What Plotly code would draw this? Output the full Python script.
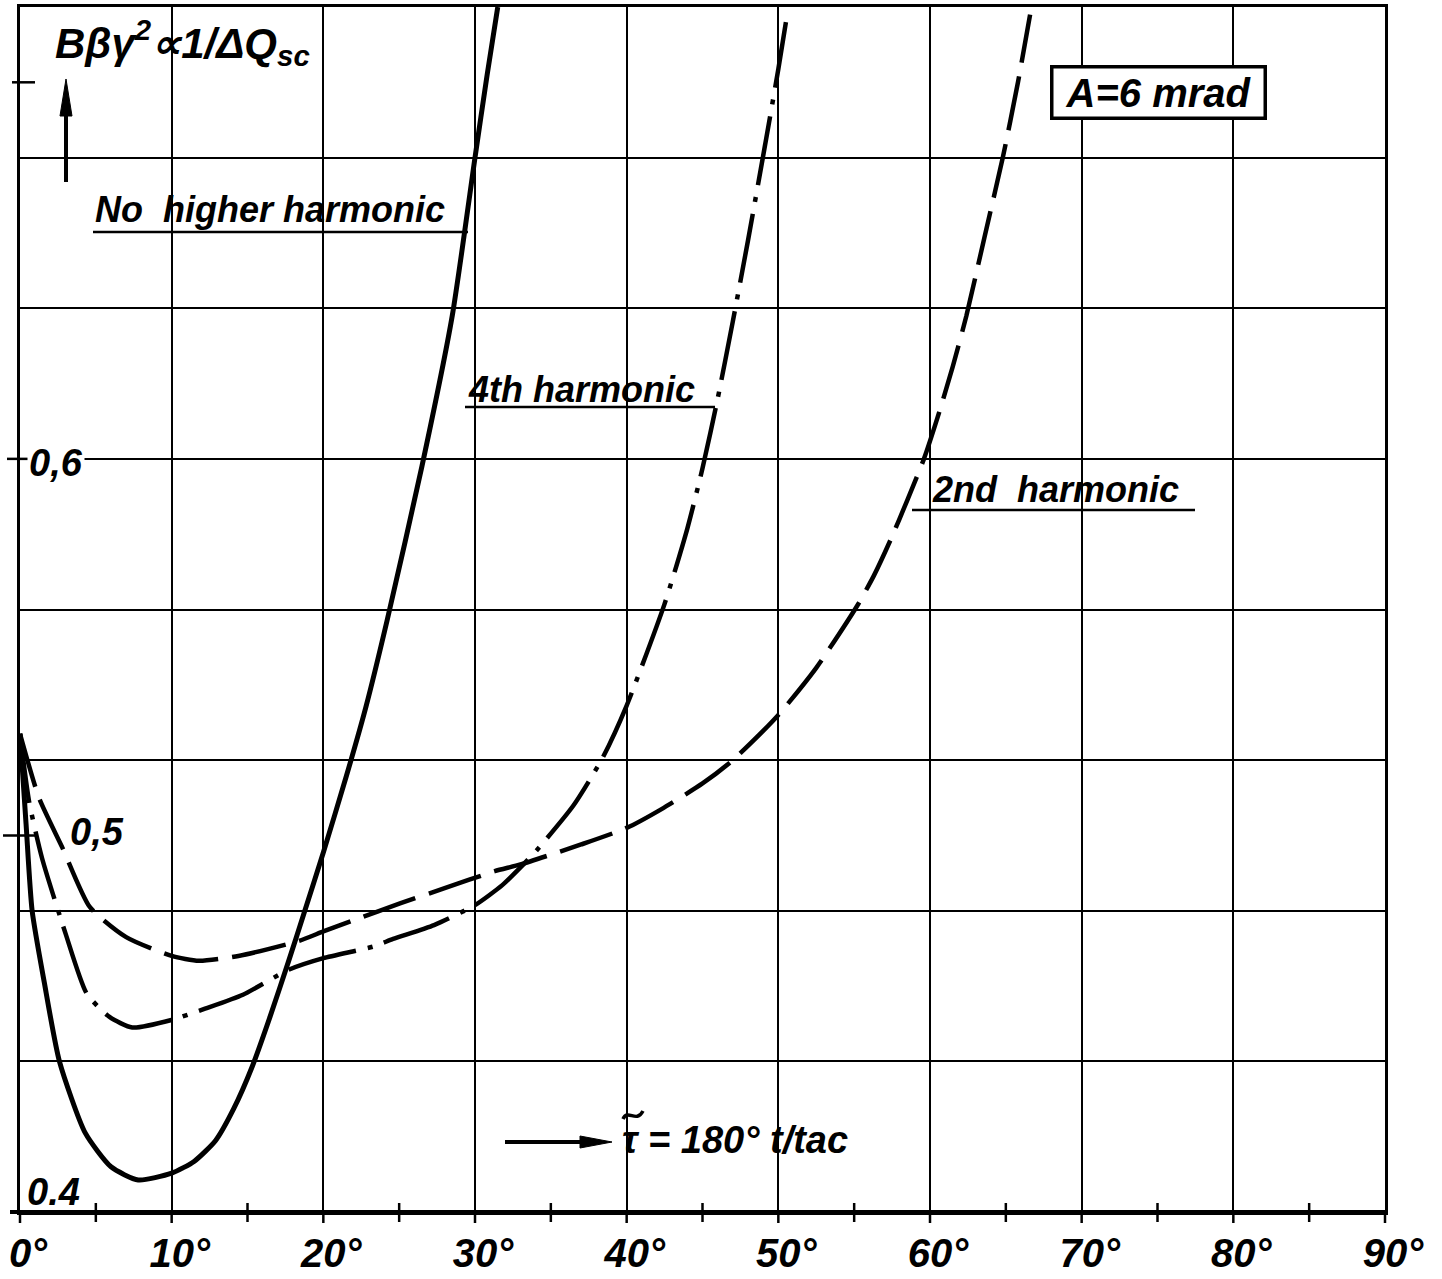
import plotly.graph_objects as go

# ---------------- data ----------------
x_none = [0, 0.4, 0.8, 1.6, 2.6, 4.3, 6.0, 7.8, 10.0, 11.5, 12.9, 14.1, 15.3, 16.5, 17.7,
          18.7, 20.0, 21.5, 22.8, 24.2, 26.5, 28.5, 30.0, 30.8, 31.5]
y_none = [0.527, 0.503, 0.480, 0.461, 0.440, 0.421, 0.412, 0.4085, 0.4103, 0.4135, 0.419,
          0.4275, 0.4385, 0.452, 0.4665, 0.479, 0.4955, 0.5155, 0.534, 0.557, 0.598, 0.638,
          0.680, 0.702, 0.720]

x_4th = [0, 0.6, 1.45, 3.0, 4.4, 5.9, 7.4, 10.0, 12.2, 14.7, 17.7, 20.0, 23.3, 24.6,
         27.3, 30.0, 31.8, 33.0, 34.1, 36.5, 38.4, 40.0, 42.5, 44.0, 45.0, 46.0, 47.0,
         48.0, 49.0, 50.0, 50.5]
y_4th = [0.527, 0.509, 0.494, 0.474, 0.458, 0.4518, 0.449, 0.451, 0.454, 0.4577, 0.4643,
         0.4674, 0.4705, 0.4725, 0.4762, 0.4815, 0.4868, 0.4915, 0.4962, 0.5080, 0.5205,
         0.5345, 0.5615, 0.5815, 0.5975, 0.616, 0.6365, 0.658, 0.6805, 0.7035, 0.716]

x_2nd = [0, 1.25, 2.8, 4.6, 7.0, 10.0, 11.8, 14.4, 18.4, 20.0, 22.0, 25.1, 28.0, 31.3,
         33.0, 37.0, 40.0, 42.3, 45.0, 47.0, 50.0, 52.5, 55.2, 56.3, 57.4, 58.5, 59.6,
         60.5, 61.5, 62.4, 63.6, 64.8, 65.8, 66.6]
y_2nd = [0.527, 0.510, 0.4967, 0.481, 0.473, 0.468, 0.4667, 0.468, 0.472, 0.4745, 0.4775,
         0.482, 0.486, 0.4905, 0.4923, 0.4976, 0.502, 0.507, 0.5138, 0.520, 0.532, 0.5445,
         0.561, 0.569, 0.5785, 0.589, 0.600, 0.611, 0.6245, 0.638, 0.659, 0.680, 0.700,
         0.718]

x_tickvals = [0, 10, 20, 30, 40, 50, 60, 70, 80, 90]
x_ticktext = ["0°", "10°", "20°", "30°", "40°", "50°", "60°", "70°", "80°", "90°"]
x_minor = [5, 15, 25, 35, 45, 55, 65, 75, 85]
y_marked = [0.5, 0.6, 0.7]
y_marked_text = ["0,5", "0,6", "0.4"]

# ---------------- layout geometry ----------------
W, H = 1442, 1279
PL, PR, PT, PB = 20, 1385, 7, 1212
X0, X1 = 0, 90
Y0, Y1 = 0.4, 0.72


def px(xp):
    return (xp - PL) / (PR - PL)


def py(yp):
    return (PB - yp) / (PB - PT)


def yv(v):
    return (v - Y0) / (Y1 - Y0)


def xv(d):
    return (d - X0) / (X1 - X0)


def pt(a, b):
    return f"{px(a):.5f},{py(b):.5f}"


def tri(pts):
    return "M " + " L ".join(pt(a, b) for a, b in pts) + " Z"


TXT = dict(family="Liberation Sans, Arial, sans-serif", size=36, color="black",
           style="italic", weight="bold")
NUM = dict(family="Liberation Sans Narrow, Liberation Sans, Arial, sans-serif",
           size=40, color="black", style="italic", weight="bold")

fig = go.Figure()

fig.add_trace(go.Scatter(x=x_none, y=y_none, mode="lines",
                         line=dict(color="black", width=5, shape="spline", smoothing=0.6),
                         name="No higher harmonic", hoverinfo="skip"))
fig.add_trace(go.Scatter(x=x_4th, y=y_4th, mode="lines",
                         line=dict(color="black", width=4.5, shape="spline", smoothing=0.6,
                                   dash="70px,12px,5px,12px"),
                         name="4th harmonic", hoverinfo="skip"))
fig.add_trace(go.Scatter(x=x_2nd, y=y_2nd, mode="lines",
                         line=dict(color="black", width=4.5, shape="spline", smoothing=0.6,
                                   dash="55px,14px"),
                         name="2nd harmonic", hoverinfo="skip"))

BL = dict(color="black", width=2.5)
shapes = []
# major ticks below the x axis
for d in x_tickvals:
    shapes.append(dict(type="line", xref="paper", yref="paper", x0=xv(d), x1=xv(d),
                       y0=0, y1=py(1223), line=BL))
# minor ticks crossing the x axis
for d in x_minor:
    shapes.append(dict(type="line", xref="paper", yref="paper", x0=xv(d), x1=xv(d),
                       y0=py(1203), y1=py(1222), line=BL))
# marked ticks on the left edge
for v, a, b in zip(y_marked, [3, 7, 12], [37, 35, 35]):
    shapes.append(dict(type="line", xref="paper", yref="paper", x0=px(a), x1=px(b),
                       y0=yv(v), y1=yv(v), line=BL))
# thick bottom axis line
shapes.append(dict(type="line", xref="paper", yref="paper", x0=px(10), x1=1,
                   y0=0, y1=0, line=dict(color="black", width=4)))
# underlines of the curve labels
for x0p, x1p, yp in [(93, 468, 232), (465, 715, 407), (912, 1195, 510)]:
    shapes.append(dict(type="line", xref="paper", yref="paper", x0=px(x0p), x1=px(x1p),
                       y0=py(yp), y1=py(yp), line=BL))
# arrow next to the y label (pointing up)
shapes.append(dict(type="line", xref="paper", yref="paper", x0=px(66), x1=px(66),
                   y0=py(182), y1=py(112), line=dict(color="black", width=4)))
shapes.append(dict(type="path", xref="paper", yref="paper",
                   path=tri([(60, 116), (72, 116), (66, 79)]),
                   fillcolor="black", line=dict(color="black", width=1)))
# arrow next to the x label (pointing right)
shapes.append(dict(type="line", xref="paper", yref="paper", x0=px(505), x1=px(585),
                   y0=py(1142), y1=py(1142), line=dict(color="black", width=4)))
shapes.append(dict(type="path", xref="paper", yref="paper",
                   path=tri([(580, 1136), (580, 1148), (612, 1142)]),
                   fillcolor="black", line=dict(color="black", width=1)))
# wavy bar over the tau
shapes.append(dict(type="path", xref="paper", yref="paper",
                   path="M " + pt(623, 1119) + " C " + pt(628, 1108) + " " + pt(636, 1124)
                        + " " + pt(643, 1111),
                   line=dict(color="black", width=3.5)))

P = dict(xref="paper", yref="paper", showarrow=False)
annotations = [
    dict(P, text="Bβγ<sup>2</sup>∝1/ΔQ<sub>sc</sub>", x=px(53), y=py(42), xanchor="left",
         yanchor="middle", font=dict(TXT, size=42)),
    dict(P, text="No  higher harmonic", x=px(93), y=py(210), xanchor="left",
         yanchor="middle", font=TXT),
    dict(P, text="4th harmonic", x=px(466), y=py(389), xanchor="left", yanchor="middle",
         font=TXT),
    dict(P, text="2nd  harmonic", x=px(930), y=py(489), xanchor="left", yanchor="middle",
         font=TXT),
    dict(P, text="&nbsp;A=6 mrad&nbsp;", x=px(1158), y=py(93), xanchor="center",
         yanchor="middle", font=dict(TXT, size=40), bordercolor="black", borderwidth=3.5,
         borderpad=2, bgcolor="white"),
    dict(P, text="τ = 180° t/tac", x=px(620), y=py(1140), xanchor="left",
         yanchor="middle", font=dict(TXT, size=38)),
    dict(P, text=y_marked_text[1], x=px(27), y=py(463), xanchor="left", yanchor="middle",
         font=dict(NUM, size=38), bgcolor="white"),
    dict(P, text=y_marked_text[0], x=px(68), y=py(832), xanchor="left", yanchor="middle",
         font=dict(NUM, size=38)),
    dict(P, text=y_marked_text[2], x=px(25), y=py(1192), xanchor="left", yanchor="middle",
         font=dict(NUM, size=38)),
]

fig.update_layout(
    width=W, height=H,
    margin=dict(l=PL, r=W - PR, t=PT, b=H - PB, autoexpand=False),
    paper_bgcolor="white", plot_bgcolor="white",
    showlegend=False,
    shapes=shapes,
    annotations=annotations,
    xaxis=dict(range=[X0, X1], tickvals=x_tickvals, ticktext=x_ticktext,
               showgrid=True, gridcolor="black", gridwidth=2, zeroline=False,
               showline=True, mirror=True, linecolor="black", linewidth=2.5,
               ticks="", tickfont=NUM, ticklabelshift=8, ticklabelstandoff=4,
               fixedrange=True, automargin=False),
    yaxis=dict(range=[Y0, Y1], dtick=0.04, tick0=0.4,
               showgrid=True, gridcolor="black", gridwidth=2, zeroline=False,
               showline=True, mirror=True, linecolor="black", linewidth=2.5,
               showticklabels=False, ticks="", fixedrange=True, automargin=False),
)

fig.write_html("out.html", post_script="document.body.style.margin='0';",
               config={"displayModeBar": False})
